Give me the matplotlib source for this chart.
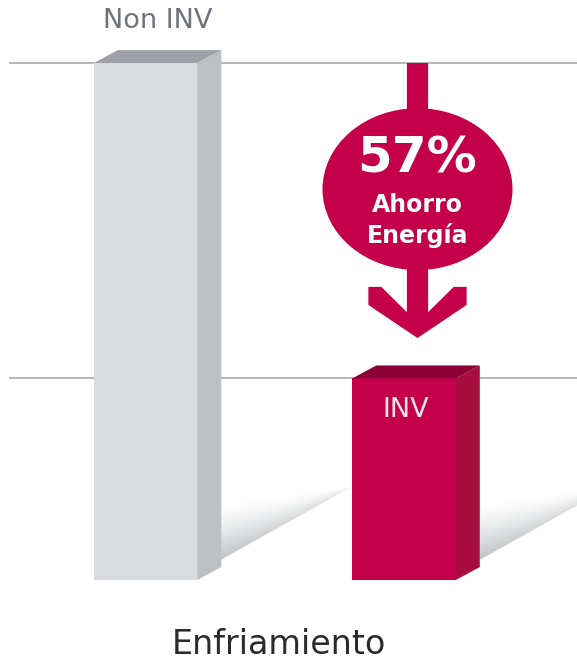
import numpy as np
import matplotlib
matplotlib.use("Agg")
from matplotlib import pyplot as plt
from matplotlib.patches import Polygon, Ellipse

# data
categories = ["Non INV", "INV"]
values = [100, 39]
saving_label = "57%"
saving_text = ["Ahorro", "Energía"]
group_label = "Enfriamiento"

FRONT = ["#d8dcde", "#c5004b"]
SIDE = ["#bcc0c3", "#a80d40"]
TOP = ["#9ea2a6", "#8c0038"]
LABEL_COLORS = ["#6d737b", "#f3e6ec"]
ACCENT = "#c5004b"
LINE = "#b4b8bb"

plt.rcParams.update({"font.family": ["DejaVu Sans"]})
fig = plt.figure(figsize=(5.77, 6.61), dpi=100)
ax = fig.add_axes([0, 0, 1, 1])
ax.set_xlim(-0.563, 1.669)
ax.set_ylim(-15.67, 112.19)
ax.axis("off")

x = np.arange(len(categories))
width = 0.4
dx, dy = 0.093, 2.5

# reference lines at both bar heights
for v in values:
    ax.axhline(v, xmin=10 / 577, xmax=1, color=LINE, lw=1.4, zorder=0)

# soft wedge-shaped shadows cast to the right of each bar
L = 0.503
for xi in x:
    x0 = xi + width / 2 + dx
    gx = np.linspace(x0, x0 + L, 300)
    gy = np.linspace(0, 20, 240)
    X, Y = np.meshgrid(gx, gy)
    t = (X - x0) / L
    ybot = 3.9 + t * (18.0 - 3.9)
    ytop = 14.9 + t * (18.0 - 14.9)
    s = (Y - ybot) / np.maximum(ytop - ybot, 1e-6)
    inside = (s >= 0) & (s <= 1) & (t <= 1)
    a = np.where(inside, (1 - np.clip(s, 0, 1)) ** 1.4 * (1 - 0.6 * t), 0)
    img = np.zeros(X.shape + (4,))
    img[..., 0] = 0.6
    img[..., 1] = 0.62
    img[..., 2] = 0.64
    img[..., 3] = a * 0.62
    ax.imshow(img, extent=(x0, x0 + L, 0, 20), origin="lower", aspect="auto",
              zorder=1, interpolation="bilinear")

# front faces
bars = ax.bar(x, values, width=width, color=FRONT, zorder=3, linewidth=0)

# side and top faces for the 3D look
for i, (xi, v) in enumerate(zip(x, values)):
    xl, xr = xi - width / 2, xi + width / 2
    ax.add_patch(Polygon([(xr, 0), (xr + dx, dy), (xr + dx, v + dy), (xr, v)],
                         closed=True, facecolor=SIDE[i], edgecolor="none", zorder=3))
    ax.add_patch(Polygon([(xl, v), (xl + dx, v + dy), (xr + dx, v + dy), (xr, v)],
                         closed=True, facecolor=TOP[i], edgecolor="none", zorder=3))

# bar labels
ax.text(x[0] + dx / 2, values[0] + 6.8, categories[0], ha="center", va="baseline",
        fontsize=19.5, color=LABEL_COLORS[0], zorder=5)
ax.text(x[1] + 0.006, values[1] - 7.5, categories[1], ha="center", va="baseline",
        fontsize=19.5, color=LABEL_COLORS[1], zorder=5)

# savings arrow from the higher bar level down towards the lower bar
xc = x[1] + 0.052
hs = 0.041
top = values[0]
tip = values[1] + 7.8
arrow = [(xc - hs, top), (xc - hs, tip + 5.0), (xc - 0.14, tip + 9.9), (xc - 0.19, tip + 9.9),
         (xc - 0.19, tip + 6.4), (xc, tip), (xc + 0.19, tip + 6.4), (xc + 0.19, tip + 9.9),
         (xc + 0.14, tip + 9.9), (xc + hs, tip + 5.0), (xc + hs, top)]
ax.add_patch(Polygon(arrow, closed=True, facecolor=ACCENT, edgecolor="none", zorder=4))
cy = top - 24.4
ax.add_patch(Ellipse((xc, cy), 0.735, 31.3, facecolor=ACCENT, edgecolor="none", zorder=4))

ax.text(xc, cy + 3.3, saving_label, ha="center", va="baseline", fontsize=36,
        fontweight="bold", color="white", zorder=5)
ax.text(xc, cy - 4.4, saving_text[0], ha="center", va="baseline", fontsize=17,
        fontweight="bold", color="white", zorder=5)
ax.text(xc, cy - 10.4, saving_text[1], ha="center", va="baseline", fontsize=17,
        fontweight="bold", color="white", zorder=5)

# category label under the group
ax.text(x.mean() + 0.015, -14.3, group_label, ha="center", va="baseline",
        fontsize=24, color="#2b2b2b", zorder=5)

fig.savefig("out.png", dpi=100)
